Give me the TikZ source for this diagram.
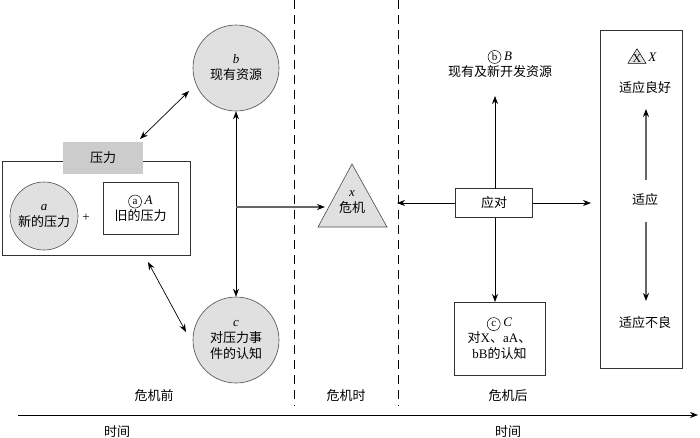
\documentclass[tikz,border=0pt]{standalone}
\usepackage{fontspec}
\setmainfont{Liberation Serif}
\newfontfamily\cjk{Noto Sans CJK SC}
\usetikzlibrary{arrows.meta,calc}
\newcommand\lt[1]{{\normalfont\itshape #1}}
\newcommand\up[1]{{\normalfont #1}}
\newcommand\circled[1]{\tikz[baseline=(cc.base),x=1pt,y=1pt]\node[draw,circle,inner sep=0.4pt,minimum size=13pt,line width=0.5pt,font=\normalfont\fontsize{11}{11}\selectfont](cc){#1};}
\newcommand\triX{\tikz[baseline=0pt,x=1pt,y=1pt]{\draw[fill=black!10,line width=0.5pt](0,-1.5)--(18,-1.5)--(9,13)--cycle;\node[inner sep=0,font=\normalfont\fontsize{12}{12}\selectfont] at (9,3.6){X};}}
\begin{document}
\begin{tikzpicture}[x=1pt,y=-1pt,
  every node/.style={font=\cjk\fontsize{13}{16}\selectfont,align=center,inner sep=0},
  circ/.style={circle,draw=black!70,fill=black!12,line width=0.6pt},
  box/.style={draw=black!80,line width=0.8pt},
  arr/.style={-{Stealth[length=8pt,width=6pt]},line width=0.7pt},
  darr/.style={{Stealth[length=8pt,width=6pt]}-{Stealth[length=8pt,width=6pt]},line width=0.7pt},
  garr/.style={-{Stealth[length=8pt,width=6pt,color=black]},draw=black!60,line width=1.1pt},
  sep/.style={dashed,dash pattern=on 9pt off 6pt,line width=0.6pt}]
\useasboundingbox (0,0) rectangle (700,437);

% stress group
\node[box,minimum width=188pt,minimum height=94pt] (sbox) at (96,208) {};
\node[fill=black!20,minimum width=80pt,minimum height=32pt] (slabel) at (103,158) {压力};
\node[circ,minimum size=68pt] (ca) at (44,216) {\lt{a}\\新的压力};
\node (plus) at (86,218) {\up{+}};
\node[box,minimum width=75pt,minimum height=52pt] (bA) at (140.5,208) {\circled{a} \lt{A}\\旧的压力};

% resources and perception
\node[circ,minimum size=86pt] (cb) at (236,68) {\lt{b}\\现有资源};
\node[circ,minimum size=86pt] (cc2) at (236,340) {\lt{c}\\对压力事\\件的认知};

% crisis triangle
\draw[fill=black!12,draw=black!70,line width=0.6pt] (352,164) -- (387,227) -- (318,227) -- cycle;
\node (tri) at (352,202) {\lt{x}\\危机};
\coordinate (triL) at (325,207);
\coordinate (triR) at (397,203);

% separators
\coordinate (s1t) at (294,0); \coordinate (s1b) at (294,406);
\coordinate (s2t) at (398,0); \coordinate (s2b) at (398,406);
\draw[sep] (s1t) -- (s1b);
\draw[sep] (s2t) -- (s2b);

% arrows left part
\draw[darr] (140,139) -- (189,91);
\draw[darr] (148,262) -- (186,332);
\draw[darr] (cb.south) -- (cc2.north);
\coordinate (jn) at (236,207);
\draw[garr] (jn) -- (triL);

% coping
\node[box,minimum width=77pt,minimum height=29pt] (cope) at (494,203) {应对};
\node (nB) at (500,64) {\circled{b} \lt{B}\\现有及新开发资源};
\node[box,minimum width=91pt,minimum height=73pt] (bC) at (499.5,338.5) {\circled{c} \lt{C}\\对\up{X}、\up{aA}、\\\up{bB}的认知};
\coordinate (copeR) at (591,203);
\draw[arr] (cope.west) -- (triR);
\draw[arr] (cope.east) -- (copeR);
\draw[arr] (495,188.5) -- (495,96);
\draw[arr] (495,217.5) -- (495,302);

% adaptation
\node[box,minimum width=82pt,minimum height=338pt] (adbox) at (641,199) {};
\node (xh) at (642,56) {\triX\,\lt{X}};
\node (good) at (645,88) {适应良好};
\node (adapt) at (645,200) {适应};
\node (bad) at (645,323) {适应不良};
\draw[garr] (646,180) -- (646,109);
\draw[garr] (646,222) -- (646,301);

% phase labels and time axis
\node (pre) at (154,396) {危机前};
\node (dur) at (346,396) {危机时};
\node (post) at (508,396) {危机后};
\coordinate (ax0) at (18,415); \coordinate (ax1) at (698,415);
\draw[arr] (ax0) -- (ax1);
\node (t1) at (117,432) {时间};
\node (t2) at (508,432) {时间};
\end{tikzpicture}
\end{document}
